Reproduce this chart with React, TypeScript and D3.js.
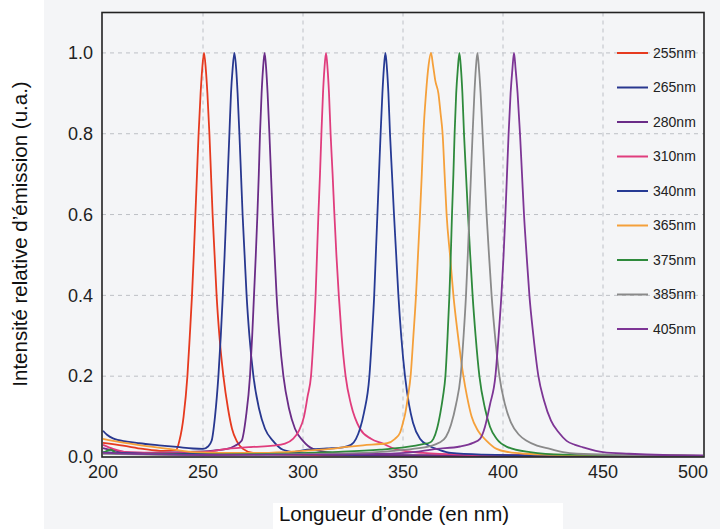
import React from "react";
import * as d3 from "d3";

type Pt = [number, number];

const xTicks = [200, 250, 300, 350, 400, 450, 500];
const yTicks = [0.0, 0.2, 0.4, 0.6, 0.8, 1.0];
const seriesNames = ["255nm", "265nm", "280nm", "310nm", "340nm", "365nm", "375nm", "385nm", "405nm"];
const seriesColors = ["#e63a1f", "#28378f", "#6a2c87", "#e03d7d", "#263a94", "#f5a03a", "#2e8a3c", "#8a8a8a", "#7d3595"];

const s255: Pt[] = [[200,0.035],[210,0.028],[220,0.02],[230,0.015],[236.5,0.017],[238.2,0.04],[240.3,0.1],[242.2,0.2],[243.4,0.3],[244.5,0.4],[245.4,0.5],[246.2,0.6],[247,0.7],[247.8,0.8],[248.8,0.9],[249.6,0.96],[250.5,1.0],[251.4,0.96],[252.2,0.9],[253.2,0.8],[254,0.7],[254.8,0.6],[255.8,0.5],[256.8,0.4],[258.2,0.3],[260.2,0.2],[262.5,0.12],[264.5,0.07],[266.8,0.04],[270,0.02],[275,0.01],[290,0.006],[320,0.004],[500,0.003]];
const s265: Pt[] = [[200,0.065],[202,0.055],[205,0.046],[212,0.038],[218,0.034],[228,0.029],[237,0.025],[245,0.021],[250,0.02],[252.5,0.026],[254.3,0.04],[256,0.1],[257.7,0.2],[258.9,0.3],[259.9,0.4],[260.8,0.5],[261.6,0.6],[262.4,0.7],[263.2,0.8],[264,0.9],[264.8,0.96],[265.7,1.0],[266.6,0.96],[267.3,0.9],[268.2,0.8],[269,0.7],[269.8,0.6],[270.8,0.5],[271.8,0.4],[273.2,0.3],[275.2,0.2],[278,0.12],[281,0.07],[285,0.04],[290,0.018],[298,0.01],[310,0.006],[340,0.004],[500,0.003]];
const s280: Pt[] = [[200,0.022],[208,0.014],[220,0.01],[240,0.012],[255,0.016],[262,0.02],[266,0.028],[269.3,0.04],[271.5,0.1],[273.5,0.2],[274.6,0.3],[275.5,0.4],[276.4,0.5],[277.2,0.6],[277.9,0.7],[278.5,0.8],[279.3,0.9],[280,0.96],[280.8,1.0],[281.6,0.96],[282.3,0.9],[283.2,0.8],[284,0.7],[284.8,0.6],[285.8,0.5],[286.8,0.4],[288.2,0.3],[290.2,0.2],[293,0.12],[296,0.07],[300,0.04],[305,0.02],[315,0.01],[330,0.006],[360,0.004],[500,0.003]];
const s310: Pt[] = [[200,0.03],[205,0.02],[212,0.012],[230,0.01],[250,0.012],[262,0.02],[275,0.025],[285,0.028],[291,0.033],[295,0.045],[298,0.065],[300.5,0.1],[302.3,0.15],[304,0.2],[305.3,0.3],[306.3,0.4],[307,0.5],[307.7,0.6],[308.5,0.7],[309.2,0.8],[310,0.9],[310.7,0.96],[311.5,1.0],[312.3,0.96],[313,0.9],[313.8,0.8],[314.8,0.7],[315.7,0.6],[316.7,0.5],[317.9,0.4],[319.3,0.3],[321.3,0.2],[324,0.13],[328.5,0.07],[334,0.045],[340,0.033],[346,0.02],[360,0.01],[380,0.006],[420,0.004],[500,0.003]];
const s340: Pt[] = [[200,0.012],[230,0.008],[280,0.008],[295,0.012],[302,0.018],[312,0.021],[320,0.024],[324,0.03],[326.5,0.045],[328.5,0.07],[330.5,0.11],[333.2,0.2],[334.5,0.3],[335.6,0.4],[336.4,0.5],[337.2,0.6],[338,0.7],[338.8,0.8],[339.7,0.9],[340.4,0.96],[341.2,1.0],[342,0.96],[342.7,0.9],[343.5,0.8],[344.5,0.7],[345.5,0.6],[346.6,0.5],[347.7,0.4],[349.1,0.3],[351,0.2],[353,0.13],[355,0.085],[358.5,0.045],[363,0.028],[368,0.018],[374,0.01],[390,0.006],[420,0.004],[500,0.003]];
const s365: Pt[] = [[200,0.045],[205,0.04],[215,0.032],[225,0.025],[233,0.02],[245,0.012],[260,0.01],[280,0.01],[300,0.015],[313.5,0.02],[322,0.025],[330,0.029],[342,0.034],[346,0.045],[348.5,0.06],[350,0.085],[351.2,0.11],[352.5,0.15],[353.8,0.2],[355.2,0.3],[356.5,0.4],[357.5,0.5],[358.5,0.6],[359.4,0.7],[360.2,0.8],[361.5,0.9],[362.8,0.97],[364,1.0],[365,0.97],[366.2,0.93],[367.7,0.9],[368.8,0.85],[369.8,0.8],[370.8,0.7],[371.8,0.6],[373.5,0.5],[375.2,0.4],[377.5,0.3],[380.2,0.2],[382,0.15],[384.3,0.1],[387.5,0.065],[391.8,0.04],[396.8,0.02],[403,0.012],[411.8,0.008],[430,0.005],[500,0.003]];
const s375: Pt[] = [[200,0.01],[204,0.018],[207,0.008],[250,0.006],[290,0.008],[313.5,0.012],[338.5,0.018],[352,0.025],[360,0.032],[363.5,0.036],[365.2,0.045],[367,0.07],[368.7,0.11],[370,0.15],[371.2,0.2],[372.3,0.3],[373.2,0.4],[373.9,0.5],[374.5,0.6],[375.2,0.7],[375.8,0.8],[376.6,0.9],[377.4,0.96],[378.2,1.0],[379,0.96],[379.7,0.9],[380.5,0.8],[381.5,0.7],[382.5,0.6],[383.6,0.5],[384.8,0.4],[386.3,0.3],[388.2,0.2],[391,0.12],[393.5,0.075],[396.8,0.045],[402,0.025],[413.5,0.012],[430,0.006],[500,0.003]];
const s385: Pt[] = [[200,0.008],[250,0.005],[300,0.007],[330,0.01],[345,0.015],[355,0.02],[363.5,0.027],[368,0.035],[371.5,0.05],[374,0.08],[376.5,0.13],[378.8,0.2],[380.3,0.3],[381.5,0.4],[382.4,0.5],[383.2,0.6],[384,0.7],[384.8,0.8],[385.7,0.9],[386.4,0.96],[387.2,1.0],[388,0.96],[388.8,0.9],[389.8,0.8],[390.8,0.7],[391.8,0.6],[393,0.5],[394.3,0.4],[396,0.3],[398.2,0.2],[401,0.13],[404,0.085],[408,0.055],[411.8,0.04],[417,0.028],[423.5,0.02],[430,0.012],[437,0.008],[460,0.005],[500,0.003]];
const s405: Pt[] = [[200,0.01],[250,0.005],[320,0.006],[351,0.01],[366.8,0.02],[378.5,0.026],[385,0.035],[388.5,0.045],[391,0.075],[393.5,0.13],[396.2,0.2],[397.8,0.3],[399.2,0.4],[400.3,0.5],[401.2,0.6],[402,0.7],[402.8,0.8],[403.8,0.9],[404.7,0.96],[405.5,1.0],[406.3,0.96],[407.3,0.9],[408.5,0.8],[409.5,0.7],[410.5,0.6],[411.8,0.5],[413.2,0.4],[415.2,0.3],[417.7,0.2],[420.5,0.14],[424,0.09],[428,0.06],[431.8,0.04],[436,0.03],[440,0.024],[450,0.012],[463,0.008],[480,0.005],[500,0.004]];

const seriesData: Pt[][] = [s255, s265, s280, s310, s340, s365, s375, s385, s405];

const W = 720;
const H = 529;
const left = 102;
const right = 704;
const top = 12.5;
const bottom = 457;

export default function App() {
  const x = d3.scaleLinear().domain([200, 500]).range([103, 703]);
  const y = d3.scaleLinear().domain([0, 1.1]).range([bottom, top]);
  const line = d3
    .line<Pt>()
    .x((d) => x(d[0]))
    .y((d) => y(d[1]))
    .curve(d3.curveMonotoneX);

  const font = "Arial, 'Liberation Sans', Helvetica, sans-serif";
  const legendY = d3.scaleLinear().domain([0, 8]).range([53, 329]);

  return (
    <svg
      width={W}
      height={H}
      style={{ position: "absolute", left: 0, top: 0, display: "block" }}
      fontFamily={font}
    >
      <rect x={0} y={0} width={W} height={H} fill="#f4f5f7" />
      <rect x={0} y={0} width={44} height={H} fill="#ffffff" />
      <rect x={273} y={503} width={290} height={26} fill="#ffffff" />
      <defs>
        <clipPath id="plotclip">
          <rect x={left} y={top} width={right - left} height={bottom - top} />
        </clipPath>
      </defs>
      {/* gridlines */}
      <g stroke="#bdc0c6" strokeWidth={1} strokeDasharray="4,4">
        {xTicks.slice(1, -1).map((t) => (
          <line key={"gx" + t} x1={x(t)} x2={x(t)} y1={top} y2={bottom} />
        ))}
        {yTicks.slice(1).map((t) => (
          <line key={"gy" + t} x1={left} x2={right} y1={y(t)} y2={y(t)} />
        ))}
      </g>
      {/* series */}
      <g clipPath="url(#plotclip)" fill="none" strokeWidth={1.8} strokeLinejoin="round">
        {seriesData.map((d, i) => (
          <path key={seriesNames[i]} d={line(d) || ""} stroke={seriesColors[i]} />
        ))}
      </g>
      {/* frame */}
      <rect x={left} y={top} width={right - left} height={bottom - top} fill="none" stroke="#222" strokeWidth={1.6} />
      {/* y tick labels */}
      {yTicks.map((t) => (
        <text key={"yt" + t} x={93} y={y(t)} dy="0.35em" textAnchor="end" fontSize={18} fill="#222">
          {d3.format(".1f")(t)}
        </text>
      ))}
      {/* x tick labels */}
      {xTicks.map((t, i) => (
        <text
          key={"xt" + t}
          x={i === xTicks.length - 1 ? x(t) + 5 : x(t)}
          y={478}
          textAnchor={i === xTicks.length - 1 ? "end" : "middle"}
          fontSize={18}
          fill="#222"
        >
          {t}
        </text>
      ))}
      {/* legend */}
      {seriesNames.map((n, i) => (
        <g key={"lg" + n}>
          <line x1={617} x2={648} y1={legendY(i)} y2={legendY(i)} stroke={seriesColors[i]} strokeWidth={2} />
          <text x={653} y={legendY(i)} dy="0.35em" fontSize={14} fill="#222">
            {n}
          </text>
        </g>
      ))}
      {/* axis titles */}
      <text x={394} y={521} textAnchor="middle" fontSize={20.5} fill="#111">
        Longueur d’onde (en nm)
      </text>
      <text
        transform={`translate(27,${234}) rotate(-90)`}
        textAnchor="middle"
        fontSize={20.5}
        fill="#111"
      >
        Intensité relative d’émission (u.a.)
      </text>
    </svg>
  );
}
